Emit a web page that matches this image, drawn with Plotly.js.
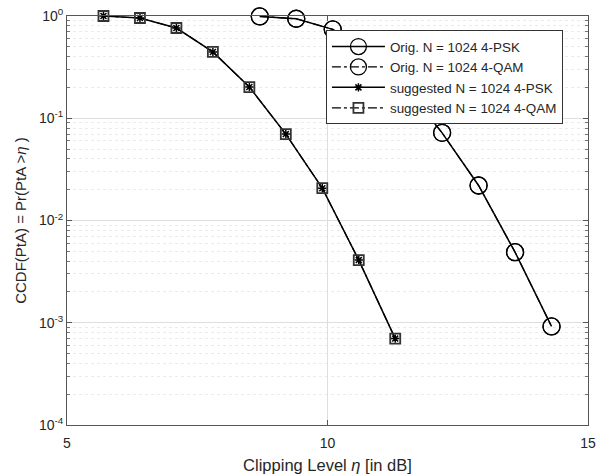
<!DOCTYPE html>
<html>
<head>
<meta charset="utf-8">
<script src="https://cdn.plot.ly/plotly-3.0.1.min.js"></script>
<style>html,body{margin:0;padding:0;background:#fff;}#chart{width:602px;height:476px;}</style>
</head>
<body>
<div id="chart"></div>
<script>
// Data
const origX = [8.7, 9.4, 10.1, 10.8, 11.5, 12.2, 12.9, 13.6, 14.3];
const origPSK = [0.99, 0.94, 0.74, 0.44, 0.20, 0.072, 0.022, 0.0049, 0.00092];
const origQAM = [0.99, 0.94, 0.74, 0.44, 0.20, 0.072, 0.022, 0.0049, 0.00092];
const suggX = [5.7, 6.4, 7.1, 7.8, 8.5, 9.2, 9.9, 10.6, 11.3];
const suggPSK = [1.0, 0.956, 0.763, 0.445, 0.202, 0.070, 0.0207, 0.0041, 0.00070];
const suggQAM = [1.0, 0.956, 0.763, 0.445, 0.202, 0.070, 0.0207, 0.0041, 0.00070];
const seriesNames = ['Orig. N = 1024 4-PSK', 'Orig. N = 1024 4-QAM', 'suggested N = 1024 4-PSK', 'suggested N = 1024 4-QAM'];
const yTickVals = [1e-4, 1e-3, 1e-2, 1e-1, 1];
const yTickText = ['10<sup>-4</sup>', '10<sup>-3</sup>', '10<sup>-2</sup>', '10<sup>-1</sup>', '10<sup>0</sup>'];
const xTickVals = [5, 10, 15];

const FONT = 'Liberation Sans, Arial, sans-serif';
const traces = [
  {x: origX, y: origPSK, name: seriesNames[0], mode: 'lines+markers', cliponaxis: false,
   line: {color: '#000', width: 1.5, dash: 'solid'},
   marker: {symbol: 'circle-open', size: 17, color: '#000', line: {width: 1.3, color: '#000'}}},
  {x: origX, y: origQAM, name: seriesNames[1], mode: 'lines+markers', cliponaxis: false,
   line: {color: '#000', width: 1.2, dash: 'dashdot'},
   marker: {symbol: 'circle-open', size: 17, color: '#000', line: {width: 1.3, color: '#000'}}},
  {x: suggX, y: suggPSK, name: seriesNames[2], mode: 'lines+markers', cliponaxis: false,
   line: {color: '#000', width: 1.5, dash: 'solid'},
   marker: {symbol: 'asterisk-open', size: 7, color: '#000', line: {width: 1.5, color: '#000'}}},
  {x: suggX, y: suggQAM, name: seriesNames[3], mode: 'lines+markers', cliponaxis: false,
   line: {color: '#000', width: 1.2, dash: 'dashdot'},
   marker: {symbol: 'square-open', size: 10, color: '#333', line: {width: 1.8, color: '#444'}}}
];

const layout = {
  width: 602, height: 476,
  margin: {l: 67, r: 14, t: 16, b: 51, pad: 0},
  paper_bgcolor: '#fff', plot_bgcolor: '#fff',
  font: {family: FONT, size: 14, color: '#262626'},
  showlegend: true,
  legend: {x: 0.497, y: 0.965, xanchor: 'left', yanchor: 'top',
    bgcolor: '#fff', bordercolor: '#333', borderwidth: 1, itemwidth: 53,
    font: {family: FONT, size: 13.4, color: '#262626'}, tracegroupgap: 0},
  xaxis: {
    range: [5, 15], tickmode: 'array', tickvals: xTickVals, ticks: 'inside', ticklen: 5,
    tickcolor: '#555', showline: true, linecolor: '#555', linewidth: 1, mirror: 'ticks',
    showgrid: true, gridcolor: '#dedede', gridwidth: 1, zeroline: false, ticklabelstandoff: 5,
    tickfont: {family: FONT, size: 14, color: '#262626'},
    title: {text: 'Clipping Level <i>η</i> [in dB]', font: {family: FONT, size: 16.5, color: '#262626'}, standoff: 9}
  },
  yaxis: {
    type: 'log', range: [-4, 0], tickmode: 'array', tickvals: yTickVals, ticktext: yTickText,
    ticks: 'inside', ticklen: 5, tickcolor: '#555',
    showline: true, linecolor: '#555', linewidth: 1, mirror: 'ticks',
    showgrid: true, gridcolor: '#dedede', gridwidth: 1, zeroline: false,
    tickfont: {family: FONT, size: 14, color: '#262626'},
    minor: {dtick: 'D1', ticks: 'inside', ticklen: 3, tickcolor: '#777', showgrid: true, gridcolor: '#ebebeb', griddash: 'dot', gridwidth: 1},
    title: {text: 'CCDF(PtA) = Pr(PtA ><i>η</i> )', font: {family: FONT, size: 15, color: '#262626'}, standoff: 8}
  }
};

Plotly.newPlot('chart', traces, layout, {displayModeBar: false, staticPlot: true});
</script>
</body>
</html>
